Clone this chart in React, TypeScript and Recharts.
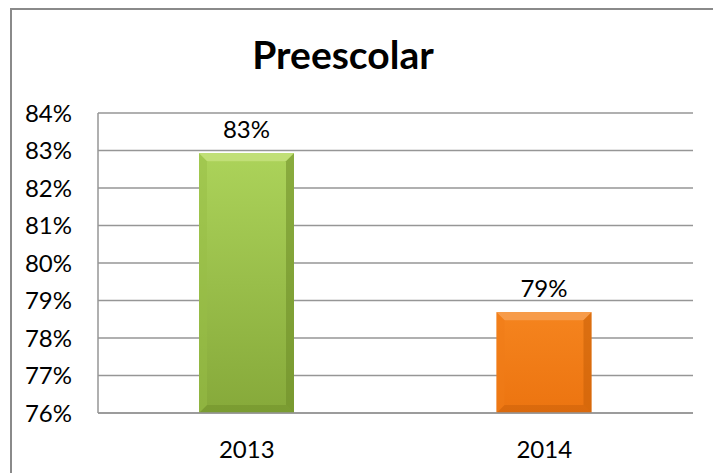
import React from "react";
import { BarChart, Bar, XAxis, YAxis, CartesianGrid, LabelList, Cell } from "recharts";

const years = ["2013", "2014"];
const coverage = [82.93, 78.69];
const yTicks = [76, 77, 78, 79, 80, 81, 82, 83, 84];

const palettes = [
  { top: "#acd35a", bottom: "#86a93a", light: "#c4e27c", dark: "#6d8c28", side: "#98bd45" },
  { top: "#f5841e", bottom: "#ec7410", light: "#f7a052", dark: "#c65e08", side: "#f07c18" },
];

const data = years.map((year, i) => ({ year, value: coverage[i] }));

const font = "Lato, 'Open Sans', sans-serif";

function BevelBar(props: any) {
  const { x, y, width, height, index } = props;
  const p = palettes[index];
  const b = 8;
  const r = x + width;
  const btm = y + height;
  return (
    <g>
      <rect x={x} y={y} width={width} height={height} fill={`url(#grad${index})`} />
      <polygon points={`${x},${y} ${r},${y} ${r - b},${y + b} ${x + b},${y + b}`} fill={p.light} opacity={0.85} />
      <polygon points={`${r},${y} ${r},${btm} ${r - b},${btm - b} ${r - b},${y + b}`} fill={p.dark} opacity={0.55} />
      <polygon points={`${x},${btm} ${r},${btm} ${r - b},${btm - b} ${x + b},${btm - b}`} fill={p.dark} opacity={0.45} />
      <polygon points={`${x},${y} ${x + b},${y + b} ${x + b},${btm - b} ${x},${btm}`} fill={p.side} opacity={0.5} />
    </g>
  );
}

export default function App() {
  return (
    <div style={{ position: "fixed", left: 0, top: 0, width: 713, height: 473, background: "#fff", overflow: "hidden" }}>
      <div
        style={{
          position: "absolute",
          left: 10,
          top: 8,
          width: 720,
          height: 480,
          border: "2px solid #8a8a8a",
          boxSizing: "border-box",
        }}
      />
      <div
        style={{
          position: "absolute",
          left: 0,
          width: 686,
          top: 29,
          textAlign: "center",
          fontFamily: font,
          fontWeight: "bold",
          fontSize: 39,
          lineHeight: "50px",
          color: "#000",
        }}
      >
        Preescolar
      </div>
      <div style={{ position: "absolute", left: 0, top: 0 }}>
        <BarChart width={713} height={473} data={data} margin={{ top: 113, right: 20, bottom: 0, left: 0 }}>
          <defs>
            {palettes.map((p, i) => (
              <linearGradient key={i} id={`grad${i}`} x1="0" y1="0" x2="0" y2="1">
                <stop offset="0%" stopColor={p.top} />
                <stop offset="100%" stopColor={p.bottom} />
              </linearGradient>
            ))}
          </defs>
          <CartesianGrid vertical={false} stroke="#969696" strokeWidth={1.5} />
          <XAxis
            dataKey="year"
            height={60}
            tickLine={false}
            axisLine={{ stroke: "#969696", strokeWidth: 1.5 }}
            tickSize={0}
            tickMargin={28}
            tick={{ fill: "#000", fontSize: 24, fontFamily: font }}
          />
          <YAxis
            width={98}
            domain={[76, 84]}
            ticks={yTicks}
            interval={0}
            tickFormatter={(v: number) => `${v}%`}
            tickLine={false}
            axisLine={{ stroke: "#969696", strokeWidth: 1.5 }}
            tickSize={0}
            tickMargin={26}
            tick={{ fill: "#000", fontSize: 24, fontFamily: font }}
          />
          <Bar dataKey="value" barSize={95} isAnimationActive={false} shape={<BevelBar />}>
            {data.map((d, i) => (
              <Cell key={d.year} fill={palettes[i].top} />
            ))}
            <LabelList
              dataKey="value"
              position="top"
              offset={15}
              formatter={(v: number) => `${Math.round(v)}%`}
              style={{ fill: "#000", fontSize: 24, fontFamily: font }}
            />
          </Bar>
        </BarChart>
      </div>
    </div>
  );
}
